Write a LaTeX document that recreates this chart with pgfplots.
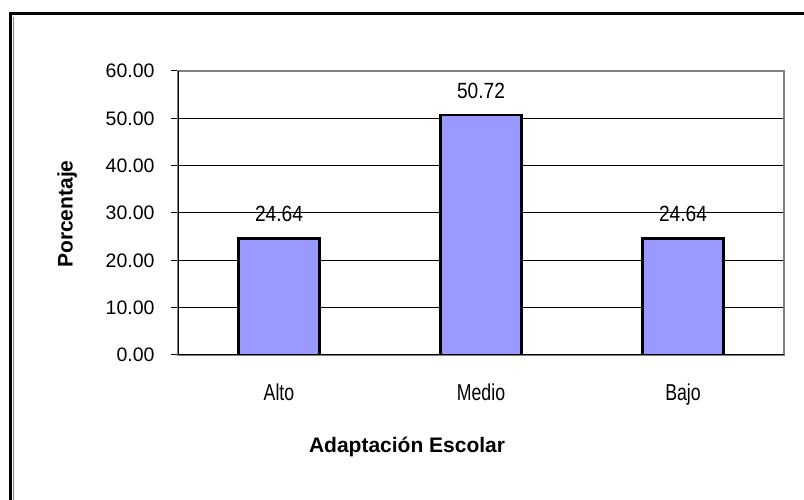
\documentclass[border=0pt]{standalone}
\usepackage{pgfplots}
\pgfplotsset{compat=1.18}
\usepackage{fontspec}
\setmainfont{Liberation Sans}
\newfontfamily\catfont[FakeStretch=0.77]{Liberation Sans}
\newfontfamily\valfont[FakeStretch=0.87]{Liberation Sans}
\definecolor{barblue}{HTML}{9999FF}
\begin{document}
\begin{tikzpicture}[x=1bp,y=1bp]
\useasboundingbox (0,0) rectangle (804,500);
\fill[white] (0,0) rectangle (804,500);
\draw[black, line width=3bp] (10.5,486) rectangle (830,-30);
\draw[gray, line width=1.2bp] (13.2,483.3) -- (13.2,-30);
\begin{axis}[
  at={(178bp,145bp)}, anchor=south west,
  scale only axis, width=606bp, height=284bp,
  xmin=-0.5, xmax=2.5, ymin=0, ymax=60,
  ytick={0,10,20,30,40,50,60},
  ymajorgrids, grid style={black, line width=1bp},
  axis line style={draw=gray, line width=1.6bp},
  /pgf/number format/assume math mode=true,
  yticklabel={\pgfmathprintnumber[fixed,fixed zerofill,precision=2]{\tick}},
  yticklabel style={font=\fontsize{19.5bp}{22bp}\selectfont, xshift=-13bp},
  y tick style={black, line width=1bp},
  ytick align=outside, major tick length=7bp,
  ytick pos=left,
  xtick={0,1,2}, xticklabels={Alto,Medio,Bajo},
  x tick style={draw=none},
  xticklabel style={font=\catfont\fontsize{23bp}{26bp}\selectfont, yshift=-18bp},
  extra x ticks={-0.5,0.5,1.5,2.5}, extra x tick labels={},
  extra x tick style={tick style={draw=black, line width=1bp}, xtick align=outside, major tick length=7bp, grid=none},
  xtick pos=bottom,
  xlabel={\textbf{Adaptación Escolar}},
  ylabel={\textbf{Porcentaje}},
  label style={font=\fontsize{21bp}{24bp}\selectfont},
  xlabel style={at={(axis description cs:0.378,-0.325)}, anchor=center},
  ylabel style={at={(axis description cs:-0.183,0.496)}, anchor=center},
  ybar, bar width=81bp,
  nodes near coords,
  nodes near coords style={font=\valfont\fontsize{22bp}{24bp}\selectfont, yshift=12bp},
  point meta=explicit symbolic,
]
\addplot[fill=barblue, draw=black, line width=2.4bp] coordinates {(0,24.64)[24.64] (1,50.72)[50.72] (2,24.64)[24.64]};
\draw[black, line width=1.6bp] (rel axis cs:0,0) -- (rel axis cs:0,1);
\draw[black, line width=1.6bp] (rel axis cs:0,0) -- (rel axis cs:1,0);
\end{axis}
\end{tikzpicture}
\end{document}
